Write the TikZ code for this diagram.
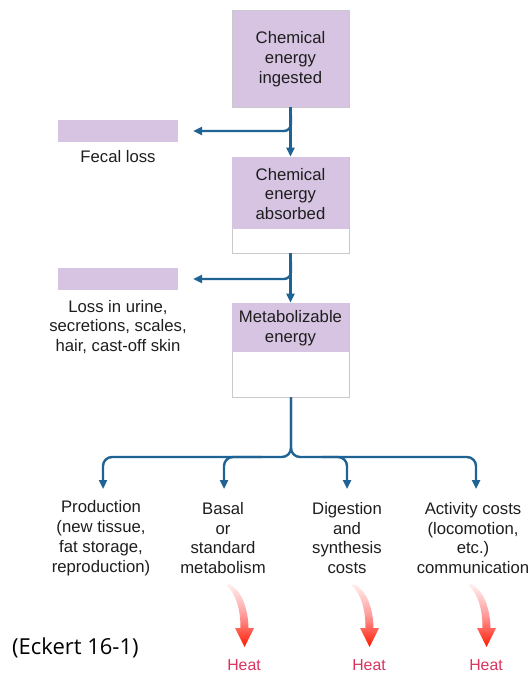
\documentclass[tikz,border=0pt]{standalone}
\usepackage{fontspec}
\setmainfont{Liberation Sans}
\newfontfamily\eckfont{Open Sans}
\usetikzlibrary{arrows.meta,calc}
\definecolor{boxpurple}{RGB}{214,196,226}
\definecolor{boxedge}{RGB}{200,200,205}
\definecolor{flowblue}{RGB}{31,99,148}
\definecolor{heatred}{RGB}{218,50,95}
\definecolor{txt}{RGB}{30,30,30}
\tikzset{
  lbl/.style={font=\fontsize{16.7}{19.8}\selectfont, text=txt, align=center, inner sep=0pt},
  boxframe/.style={draw=boxedge, line width=0.8pt, fill=white, minimum width=117pt, inner sep=0pt},
  lossbar/.style={fill=boxpurple, minimum width=120pt, minimum height=22pt, inner sep=0pt},
  flow/.style={draw=flowblue, line width=2.4pt, -{Triangle[length=9pt,width=8pt]}},
  heatlbl/.style={font=\fontsize{15.8}{18}\selectfont, text=heatred, inner sep=0pt},
}
\newcommand{\heatarrow}[2]{%
  \shade[top color=red!6, bottom color=red!80!orange, middle color=red!40]
    (#1-1.5,#2) .. controls (#1+8,#2+9) and (#1+12.5,#2+24) .. (#1+12.5,#2+43)
    -- (#1+7,#2+43) -- (#1+16.5,#2+62) -- (#1+26,#2+43) -- (#1+20.5,#2+43)
    .. controls (#1+20,#2+22) and (#1+13,#2+5) .. (#1+1.5,#2-0.8) -- cycle;}
\begin{document}
\begin{tikzpicture}[x=1pt,y=-1pt]
\useasboundingbox (0,0) rectangle (530,679);
% Boxes
\node[boxframe, fill=boxpurple, minimum height=97pt] (b1) at (290.5,58.5) {};
\node[lbl] (t1) at (290.5,59) {Chemical\\energy\\ingested};

\node[boxframe, minimum height=96pt] (b2) at (290.5,205) {};
\fill[boxpurple] ([shift={(0.4,0.4)}]b2.north west) rectangle ([shift={(-0.4,72)}]b2.north east);
\node[lbl] (t2) at (290.5,194) {Chemical\\energy\\absorbed};

\node[boxframe, minimum height=94pt] (b3) at (290.5,350) {};
\fill[boxpurple] ([shift={(0.4,0.4)}]b3.north west) rectangle ([shift={(-0.4,49)}]b3.north east);
\node[lbl] (t3) at (290.5,328) {Metabolizable\\energy};

% Loss bars
\node[lossbar] (fecal) at (118,131) {};
\node[lbl] (fecaltxt) at (118,157) {Fecal loss};
\node[lossbar] (urine) at (118,279) {};
\node[lbl] (urinetxt) at (118,327) {Loss in urine,\\secretions, scales,\\hair, cast-off skin};

% Main flow
\draw[flow] (b1.south) -- (b2.north);
\draw[flow] (b2.south) -- (b3.north);
\coordinate (j1) at (291,115);
\coordinate (j2) at (291,262);
\draw[flow, rounded corners=7pt] (j1) |- ([xshift=15pt]fecal.east);
\draw[flow, rounded corners=7pt] (j2) |- ([xshift=15pt]urine.east);

% Outcomes
\node[lbl] (prod) at (101,538) {Production\\(new tissue,\\fat storage,\\reproduction)};
\node[lbl] (basal) at (223,538) {Basal\\or\\standard\\metabolism};
\node[lbl] (dig) at (347,538) {Digestion\\and\\synthesis\\costs};
\node[lbl] (act) at (473,538) {Activity costs\\(locomotion,\\etc.)\\communication};
\coordinate (a1) at (103,489);
\coordinate (a2) at (224,489);
\coordinate (a3) at (347,489);
\coordinate (a4) at (476,489);
\coordinate (s2) at (262,457);
\coordinate (s3) at (322,457);
\draw[flow, rounded corners=9pt] ([xshift=0.5pt]b3.south) |- (103,457) -- (a1);
\draw[flow, rounded corners=9pt] ([xshift=0.5pt]b3.south) |- (476,457) -- (a4);
\draw[flow, rounded corners=9pt] (s2) -| (a2);
\draw[flow, rounded corners=9pt] (s3) -| (a3);

% Heat arrows
\heatarrow{228}{585}
\heatarrow{353}{585}
\heatarrow{470}{585}
\node[heatlbl] (h1) at (244,665) {Heat};
\node[heatlbl] (h2) at (369,665) {Heat};
\node[heatlbl] (h3) at (486,665) {Heat};

% Citation
\node[font=\eckfont\fontsize{22}{25}\selectfont, text=black, anchor=west, inner sep=0pt] (cite) at (12,648) {(Eckert 16-1)};
\end{tikzpicture}
\end{document}
